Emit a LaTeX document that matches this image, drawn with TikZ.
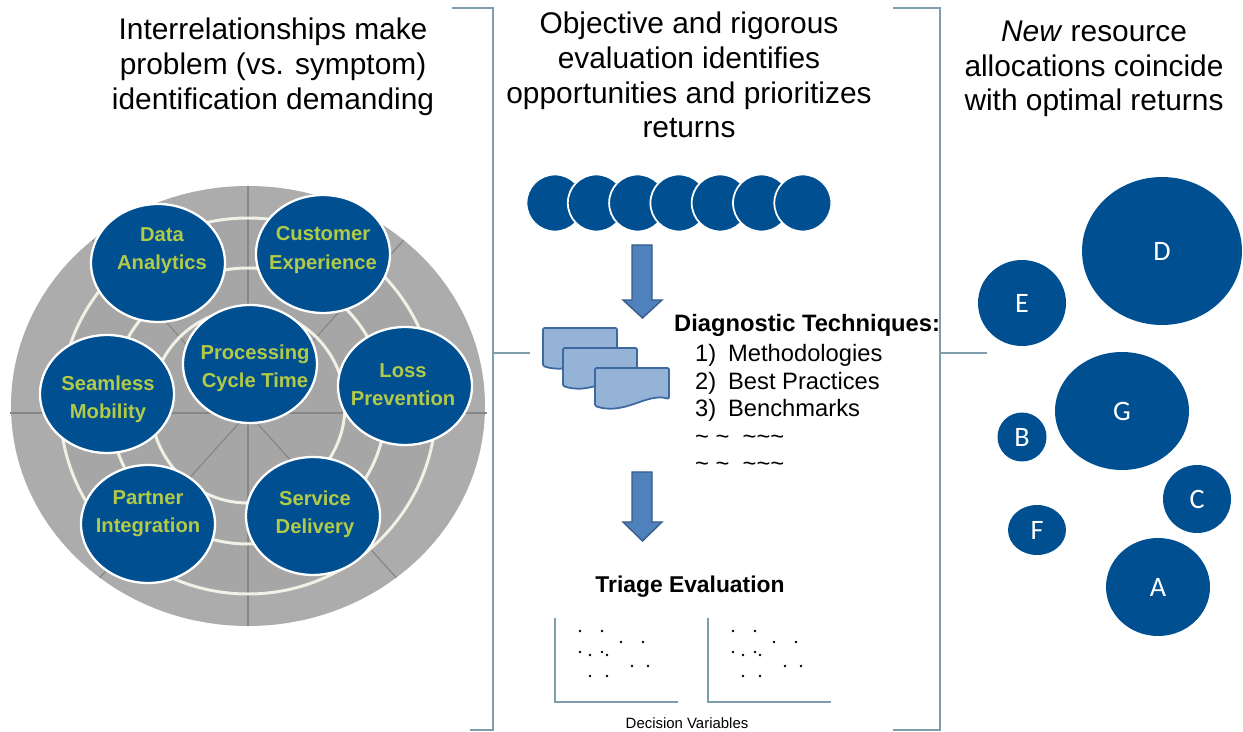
\documentclass[tikz,border=0pt]{standalone}
\usepackage{fontspec}
\setmainfont{Liberation Sans}
\newfontfamily\bubblefont{Carlito}
\usetikzlibrary{shapes.geometric}

\definecolor{wheelblue}{RGB}{0,80,145}
\definecolor{wheeltext}{RGB}{178,202,72}
\definecolor{wheelgray}{RGB}{172,172,172}
\definecolor{wheelinner}{RGB}{166,166,166}
\definecolor{ringcream}{RGB}{240,240,228}
\definecolor{spokegray}{RGB}{135,135,135}
\definecolor{brackgray}{RGB}{125,158,170}
\definecolor{arrowfill}{RGB}{79,129,189}
\definecolor{arrowedge}{RGB}{56,93,138}
\definecolor{docfill}{RGB}{149,179,215}
\definecolor{docedge}{RGB}{62,104,160}

\newcommand{\tld}{\textasciitilde}

\begin{document}
\begin{tikzpicture}[x=0.02cm,y=-0.02cm,
    heading/.style={align=center,font=\fontsize{17}{19.8}\selectfont},
    wheelnode/.style={ellipse,draw=white,line width=1.3pt,fill=wheelblue,inner sep=0pt,
      minimum width=2.68cm,minimum height=2.36cm},
    wheeltxt/.style={align=center,text=wheeltext,font=\fontsize{11.5}{16}\selectfont\bfseries},
    bubble/.style={ellipse,fill=wheelblue,inner sep=0pt,text=white,
      font=\bubblefont\fontsize{16}{16}\selectfont},
    bracket/.style={draw=brackgray,line width=1.1pt},
    axisline/.style={draw=brackgray,line width=0.8pt},
    blockarrow/.style={fill=arrowfill,draw=arrowedge,line width=0.8pt},
    docbox/.style={fill=docfill,draw=docedge,line width=1pt,rounded corners=0.8pt},
    spoke/.style={draw=spokegray,line width=0.7pt},
    ring/.style={draw=ringcream,line width=1.7pt}]

    \useasboundingbox (0,0) rectangle (1243,732);

    % left column: the wheel
    \fill[wheelgray] (248,406) ellipse [x radius=237, y radius=220];
    \fill[wheelinner] (248,406) circle (188);
    \begin{scope}
      \clip (248,406) ellipse [x radius=237, y radius=220];
      \draw[spoke] (248,413) -- ++(-180,-200) (248,413) -- ++(180,-200);
      \draw[spoke] (248,413) -- ++(-180,200) (248,413) -- ++(180,200);
    \end{scope}
    \draw[spoke] (10,413) -- (487,413);
    \draw[spoke] (248,186) -- (248,626);
    \foreach \r in {97,138,188}
      \draw[ring] (248,406) circle (\r);

    \node[wheelnode] (data) at (158,263) {};
    \node[wheelnode] (customer) at (323,254) {};
    \node[wheelnode] (seamless) at (107,394) {};
    \node[wheelnode] (loss) at (405,386) {};
    \node[wheelnode] (partner) at (148,524) {};
    \node[wheelnode] (service) at (313,516) {};
    \node[wheelnode] (processing) at (250,364) {};
    \node[wheeltxt] (datatxt) at (162,251) {Data\\Analytics};
    \node[wheeltxt] (customertxt) at (323,250) {Customer\\Experience};
    \node[wheeltxt] (seamlesstxt) at (108,399) {Seamless\\Mobility};
    \node[wheeltxt] (losstxt) at (403,385) {Loss\\Prevention};
    \node[wheeltxt] (partnertxt) at (148,514) {Partner\\Integration};
    \node[wheeltxt] (servicetxt) at (315,514) {Service\\Delivery};
    \node[wheeltxt] (processingtxt) at (255,368) {Processing\\Cycle Time};

    \node[heading] (probtitle) at (273,67) {Interrelationships make\\problem (vs. symptom)\\identification demanding};

    % brackets
    \draw[bracket] (452,8) -- (493,8) -- (493,730) -- (470,730);
    \draw[bracket] (493,353) -- (530,353);
    \draw[bracket] (893,8) -- (940,8) -- (940,730) -- (893,730);
    \draw[bracket] (940,353) -- (987,353);

    % middle column
    \node[heading] (evaltitle) at (689,75) {Objective and rigorous\\evaluation identifies\\opportunities and prioritizes\\returns};

    \foreach \i in {0,...,6}
      \draw[draw=white,line width=1pt,fill=wheelblue] ({555+41.3*\i},203) circle (28.5);

    \draw[blockarrow] (632,245) -- (652,245) -- (652,300) -- (662,300) -- (642.5,318)
      -- (623,300) -- (632,300) -- cycle;

    \foreach \x/\y in {543/328,563/348,595/368}
      \draw[docbox] (\x,\y) -- ({\x+74},\y) -- ({\x+74},{\y+31})
        .. controls ({\x+52},{\y+24}) and ({\x+30},{\y+48}) .. (\x,{\y+38}) -- cycle;

    \node[anchor=west,font=\fontsize{13.5}{16}\selectfont\bfseries] (diagtitle) at (668,325) {Diagnostic Techniques:};
    \node[anchor=west,align=left,font=\fontsize{13.5}{15.6}\selectfont] (diaglist) at (689,408)
      {1)\enspace Methodologies\\2)\enspace Best Practices\\3)\enspace Benchmarks\\
       \tld\ \tld\ \ \tld\tld\tld\\\tld\ \tld\ \ \tld\tld\tld};

    \draw[blockarrow] (632,472) -- (652,472) -- (652,522) -- (662,522) -- (642.5,541)
      -- (623,522) -- (632,522) -- cycle;

    \node[font=\fontsize{13}{15}\selectfont\bfseries] (triage) at (690,587) {Triage Evaluation};

    \foreach \dx in {0,153} {
      \draw[axisline] ({555+\dx},618) -- ({555+\dx},702) -- ({678+\dx},702);
      \foreach \px/\py in {580/631,602/631,621/642,643/642,580/652,590/655,
                           602/652,607/655,632/666,648/666,590/676,607/676}
        \fill ({\px+\dx},\py) circle (1.3);
    }
    \node[font=\fontsize{8.5}{10}\selectfont] (decvars) at (687,723) {Decision Variables};

    % right column
    \node[heading] (alloctitle) at (1094,69) {\textit{New} resource\\allocations coincide\\with optimal returns};

    \node[bubble,minimum width=3.2cm,minimum height=2.96cm] (bubD) at (1162,251) {D};
    \node[bubble,minimum width=1.76cm,minimum height=1.72cm] (bubE) at (1022,303) {E};
    \node[bubble,minimum width=2.68cm,minimum height=2.36cm] (bubG) at (1122,411) {G};
    \node[bubble,minimum width=0.98cm,minimum height=0.98cm] (bubB) at (1022,437) {B};
    \node[bubble,minimum width=1.36cm,minimum height=1.36cm] (bubC) at (1197,499) {C};
    \node[bubble,minimum width=1.16cm,minimum height=1.0cm] (bubF) at (1037,530) {F};
    \node[bubble,minimum width=2.08cm,minimum height=1.96cm] (bubA) at (1158,587) {A};
  \end{tikzpicture}
\end{document}
